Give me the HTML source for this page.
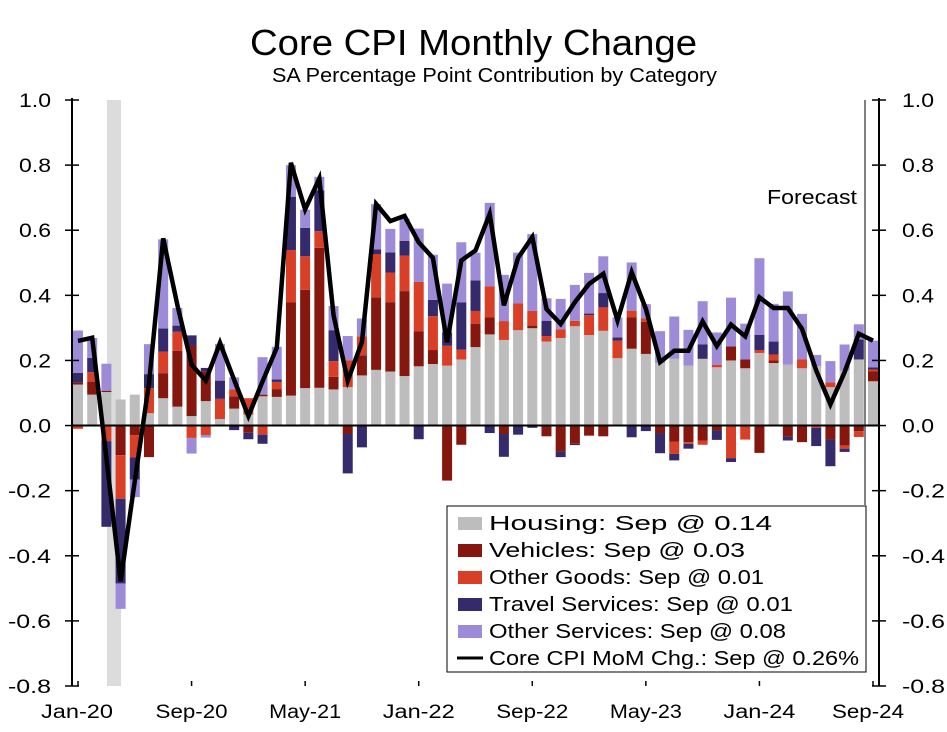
<!DOCTYPE html>
<html><head><meta charset="utf-8"><style>
body{margin:0;background:#fff;}
svg text{font-family:"Liberation Sans","DejaVu Sans",sans-serif;fill:#000;}
</style></head><body>
<svg id="chart" width="947" height="727" viewBox="0 0 947 727" xmlns="http://www.w3.org/2000/svg">
<text x="250" y="55" font-size="36" textLength="447" lengthAdjust="spacingAndGlyphs">Core CPI Monthly Change</text>
<text x="272" y="82" font-size="20" textLength="445" lengthAdjust="spacingAndGlyphs">SA Percentage Point Contribution by Category</text>
<g id="plot"></g>
</svg>
<script>
const months = ["Jan-20","Feb-20","Mar-20","Apr-20","May-20","Jun-20","Jul-20","Aug-20","Sep-20","Oct-20","Nov-20","Dec-20","Jan-21","Feb-21","Mar-21","Apr-21","May-21","Jun-21","Jul-21","Aug-21","Sep-21","Oct-21","Nov-21","Dec-21","Jan-22","Feb-22","Mar-22","Apr-22","May-22","Jun-22","Jul-22","Aug-22","Sep-22","Oct-22","Nov-22","Dec-22","Jan-23","Feb-23","Mar-23","Apr-23","May-23","Jun-23","Jul-23","Aug-23","Sep-23","Oct-23","Nov-23","Dec-23","Jan-24","Feb-24","Mar-24","Apr-24","May-24","Jun-24","Jul-24","Aug-24","Sep-24"];
const housing = [0.126,0.095,0.103,0.080,0.095,0.038,0.084,0.058,0.029,0.075,0.020,0.052,0.034,0.090,0.088,0.092,0.115,0.116,0.111,0.118,0.154,0.171,0.166,0.152,0.182,0.189,0.184,0.203,0.241,0.280,0.263,0.293,0.299,0.258,0.269,0.305,0.278,0.291,0.207,0.236,0.220,0.192,0.205,0.184,0.205,0.179,0.200,0.176,0.223,0.192,0.187,0.176,0.183,0.118,0.169,0.203,0.136];
const vehicles = [0.007,0.040,0.004,-0.091,-0.030,-0.097,0.077,0.172,0.217,0.092,0,0.038,-0.022,0.005,0.024,0.287,0.302,0.430,0.039,-0.026,0.062,0.223,0.213,0.261,0.108,0.043,-0.169,-0.059,0.071,0.052,-0.026,0,0.008,-0.033,-0.080,-0.056,-0.031,-0.033,0,0.097,0.099,-0.023,-0.049,-0.051,-0.046,-0.015,0.043,0.027,-0.084,0.008,-0.034,-0.051,0,-0.043,-0.061,-0.017,0.030];
const otherGoods = [-0.010,0.029,-0.048,-0.134,-0.068,0.077,0.066,0.058,-0.038,-0.030,0.062,0.021,0.050,-0.028,0.022,0.160,0.103,0.051,0.048,0.082,0.058,0.133,0.091,0.109,0.151,0.104,0.061,0.030,0.040,0.096,0.058,0.082,0.045,0.017,0.027,0.017,0.061,0.072,0.054,0.020,0.010,0,-0.038,-0.005,-0.013,0.008,-0.100,-0.043,0.009,0.018,0,0.027,-0.007,0.015,-0.010,-0.018,0.006];
const travel = [0.029,0.044,-0.263,-0.260,-0.068,0.043,0.071,0.019,0.031,0.010,0.056,-0.014,-0.020,-0.028,0.008,0.164,0.087,0.125,0.095,-0.121,-0.067,0.014,0.062,0.045,-0.042,0.050,0.041,0.145,0.094,-0.023,-0.070,-0.028,-0.007,0.047,-0.017,-0.004,0.005,0.044,0.010,-0.036,-0.017,-0.062,-0.020,-0.015,0.044,-0.029,-0.012,0,0.047,0.040,-0.012,0,-0.056,-0.082,-0.010,0.062,0.007];
const otherServices = [0.130,0.061,0.083,-0.078,-0.054,0.092,0.274,0.054,-0.048,-0.007,0.113,0.037,0,0.115,0.100,0.097,0.056,0.042,0.074,0.075,0.055,0.139,0.072,0.069,0.164,0.139,0.150,0.185,0.085,0.256,0.142,0.156,0.236,0.069,0.093,0.110,0.125,0.113,0.061,0.148,0.044,0.098,0.130,0.110,0.133,0.099,0.150,0.110,0.235,0.116,0.225,0.140,0.034,0.065,0.080,0.046,0.082];
const coreMoM = [0.26,0.27,-0.10,-0.478,-0.17,0.13,0.575,0.37,0.187,0.138,0.254,0.14,0.029,0.136,0.239,0.807,0.664,0.759,0.34,0.138,0.256,0.681,0.628,0.644,0.563,0.515,0.256,0.507,0.538,0.65,0.369,0.515,0.579,0.358,0.312,0.379,0.435,0.466,0.323,0.471,0.358,0.195,0.23,0.23,0.32,0.244,0.31,0.274,0.394,0.361,0.361,0.297,0.169,0.065,0.164,0.282,0.261];
const yTicks = [1.0,0.8,0.6,0.4,0.2,0.0,-0.2,-0.4,-0.6,-0.8];
const xTickLabels = ["Jan-20","Sep-20","May-21","Jan-22","Sep-22","May-23","Jan-24","Sep-24"];
const legendLabels = ["Housing: Sep @ 0.14","Vehicles: Sep @ 0.03","Other Goods: Sep @ 0.01","Travel Services: Sep @ 0.01","Other Services: Sep @ 0.08","Core CPI MoM Chg.: Sep @ 0.26%"];

const NS="http://www.w3.org/2000/svg";
const plot=document.getElementById('plot');
const X0=72,X1=879,Y0=100,Y1=686,VMAX=1.0,VMIN=-0.8;
function y(v){return Y0+(VMAX-v)/(VMAX-VMIN)*(Y1-Y0);}
function xc(i){return 78+i*(873-78)/(months.length-1);}
function mk(tag,attrs,parent){const e=document.createElementNS(NS,tag);for(const k in attrs)e.setAttribute(k,attrs[k]);(parent||plot).appendChild(e);return e;}

let band=mk('rect',{x:107,y:Y0,width:14,height:Y1-Y0,fill:'#dcdcdc'});



const series=[{d:housing,c:'#bdbdbd',n:'housing'},{d:vehicles,c:'#85170f',n:'vehicles'},{d:otherGoods,c:'#d93f27',n:'other-goods'},{d:travel,c:'#352a6b',n:'travel-services'},{d:otherServices,c:'#9d8bd8',n:'other-services'}];
const bw=10;
for(let i=0;i<months.length;i++){
  let pos=0,neg=0;
  for(const s of series){
    const v=s.d[i]; if(!v) continue;
    let a,b;
    if(v>0){a=pos;b=pos+v;pos=b;}else{a=neg;b=neg+v;neg=b;}
    const top=y(Math.max(a,b)),bot=y(Math.min(a,b));
    const r=mk('rect',{x:xc(i)-bw/2,y:top,width:bw,height:Math.max(bot-top,0.5),fill:s.c});
    
    
  }
}
let zl=mk('line',{x1:X0,x2:X1,y1:y(0),y2:y(0),stroke:'#000','stroke-width':2});


let fl=mk('line',{x1:865,x2:865,y1:Y0,y2:505,stroke:'#000','stroke-width':1});


let ft=mk('text',{x:767,y:204,'font-size':20,textLength:90,lengthAdjust:'spacingAndGlyphs'});ft.textContent='Forecast';



let pts=coreMoM.map((v,i)=>xc(i).toFixed(1)+','+y(v).toFixed(1)).join(' ');
let pl=mk('polyline',{points:pts,fill:'none',stroke:'#000','stroke-width':4.5,'stroke-linejoin':'miter'});



let la=mk('line',{x1:X0,x2:X0,y1:Y0-2,y2:Y1,stroke:'#000','stroke-width':2});


let ra=mk('line',{x1:X1,x2:X1,y1:Y0-2,y2:Y1,stroke:'#000','stroke-width':2});


for(const t of yTicks){
  const yy=y(t);
  const tl=t<0?43:32;
  mk('line',{x1:X0-7,x2:X0+7,y1:yy,y2:yy,stroke:'#000','stroke-width':1.5});
  mk('line',{x1:X1-7,x2:X1+7,y1:yy,y2:yy,stroke:'#000','stroke-width':1.5});
  const lt=mk('text',{x:51-tl,y:yy+7,'font-size':19,textLength:tl,lengthAdjust:'spacingAndGlyphs'});lt.textContent=t.toFixed(1);
  
  
  const rt=mk('text',{x:902,y:yy+7,'font-size':19,textLength:tl,lengthAdjust:'spacingAndGlyphs'});rt.textContent=t.toFixed(1);
  
  
}
for(const lab of xTickLabels){
  const i=months.indexOf(lab);
  let xx=xc(i); if(i===0) xx=77; if(i===months.length-1) xx=868;
  mk('line',{x1:xc(i),x2:xc(i),y1:Y1-5,y2:Y1,stroke:'#000','stroke-width':1.5});
  const xt=mk('text',{x:xx-36,y:718,'font-size':19,textLength:72,lengthAdjust:'spacingAndGlyphs'});xt.textContent=lab;
  
  
}

const legendEnds=[772,745,764,793,786,859];
const lg=mk('g',{});


mk('rect',{x:447,y:506,width:419,height:166,fill:'#fff',stroke:'#000','stroke-width':1},lg);
const lcols=['#bdbdbd','#85170f','#d93f27','#352a6b','#9d8bd8'];
for(let k=0;k<legendLabels.length;k++){
  const cy=523+k*27;
  if(k<5){mk('rect',{x:458,y:cy-6,width:24,height:13,fill:lcols[k]},lg);}
  else{mk('line',{x1:457,x2:483,y1:cy,y2:cy,stroke:'#000','stroke-width':3},lg);}
  const tt=mk('text',{x:489,y:cy+7,'font-size':20,textLength:legendEnds[k]-489,lengthAdjust:'spacingAndGlyphs'},lg);tt.textContent=legendLabels[k];
  
  
}
</script>
</body></html>
